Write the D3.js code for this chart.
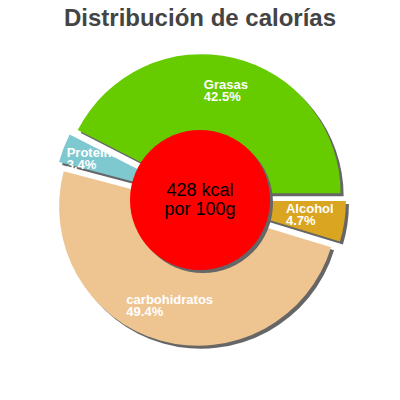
<!DOCTYPE html>
<html><head><meta charset="utf-8">
<script src="https://cdn.jsdelivr.net/npm/d3@7"></script>
<style>html,body{margin:0;padding:0;background:#fff;}</style>
</head><body>
<svg id="c" width="400" height="400"></svg>
<script>
const categories = ["Alcohol", "carbohidratos", "Proteínas", "Grasas"];
const values = [4.7, 49.4, 3.4, 42.5];
const colors = ["#daa520", "#eec591", "#7ec8d0", "#66cc00"];
const title = "Distribución de calorías";
const centerLines = ["428 kcal", "por 100g"];

const svg = d3.select("#c");
const W = 400, H = 400;
const cx = 200, cy = 200, R = 139, explode = 7, labelR = 104, innerR = 70, sh = 3;

svg.append("text").attr("x", W/2).attr("y", 26).attr("text-anchor", "middle")
  .attr("font-family", "Liberation Sans, Arial, sans-serif").attr("font-weight", "bold")
  .attr("font-size", 24).attr("fill", "#444").text(title);

const data = categories.map((c, i) => ({name: c, value: values[i], color: colors[i]}));
const pie = d3.pie().value(d => d.value).sort(null).startAngle(Math.PI/2).endAngle(Math.PI/2 + 2*Math.PI);
const arc = d3.arc().innerRadius(0).outerRadius(R);
const g = svg.append("g").attr("transform", `translate(${cx},${cy})`);

pie(data).forEach(p => {
  const mid = (p.startAngle + p.endAngle) / 2;
  const dx = explode * Math.sin(mid), dy = -explode * Math.cos(mid);
  const sg = g.append("g").attr("transform", `translate(${dx},${dy})`);
  sg.append("path").attr("d", arc(p)).attr("fill", "#666").attr("transform", `translate(${sh},${sh})`);
  sg.append("path").attr("d", arc(p)).attr("fill", p.data.color);
  const px = labelR * Math.sin(mid), py = -labelR * Math.cos(mid);
  const t = sg.append("text").attr("font-family", "Liberation Sans, Arial, sans-serif")
    .attr("font-weight", "bold").attr("font-size", 13).attr("fill", "#fff");
  const t1 = t.append("tspan").attr("y", py - 3).text(p.data.name);
  const t2 = t.append("tspan").attr("y", py + 9).text(d3.format(".1f")(p.data.value) + "%");
  const w = Math.max(t1.node().getComputedTextLength(), t2.node().getComputedTextLength());
  t1.attr("x", px - w/2); t2.attr("x", px - w/2);
});

g.append("circle").attr("cx", sh).attr("cy", sh).attr("r", innerR).attr("fill", "#666");
g.append("circle").attr("r", innerR).attr("fill", "#ff0000");
const ct = g.append("text").attr("text-anchor", "middle").attr("font-family", "Liberation Sans, Arial, sans-serif")
  .attr("font-size", 18).attr("fill", "#000");
ct.append("tspan").attr("x", 0).attr("y", -4).text(centerLines[0]);
ct.append("tspan").attr("x", 0).attr("y", 15).text(centerLines[1]);
</script>
</body></html>
